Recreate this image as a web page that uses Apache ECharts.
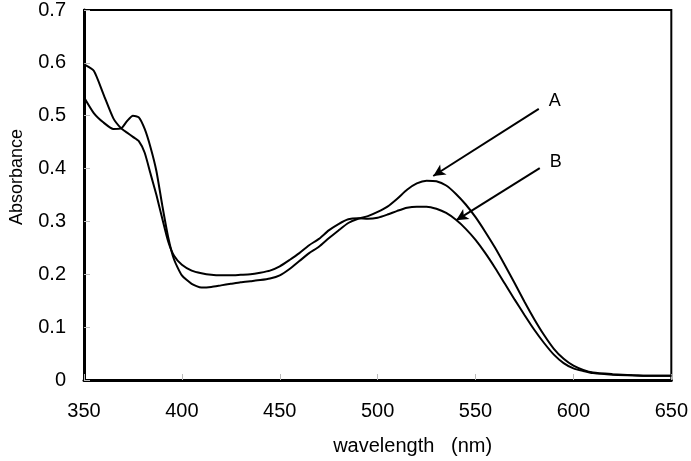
<!DOCTYPE html>
<html>
<head>
<meta charset="utf-8">
<script src="https://cdn.jsdelivr.net/npm/echarts@6/dist/echarts.min.js"></script>
<style>
  html, body { margin: 0; padding: 0; background: #fff; }
  #chart { width: 691px; height: 461px; }
</style>
</head>
<body>
<div id="chart"></div>
<script>
var wavelengths = [350, 355, 360, 365, 369, 372, 375, 378, 381, 384, 387, 390, 393, 396, 400, 405, 410, 415, 420, 425, 430, 435, 440, 445, 450, 455, 460, 465, 470, 475, 480, 485, 490, 495, 500, 505, 510, 515, 520, 525, 530, 535, 540, 545, 550, 555, 560, 565, 570, 575, 580, 585, 590, 595, 600, 605, 610, 620, 630, 640, 650];

var curveA = [0.535, 0.505, 0.487, 0.475, 0.476, 0.49, 0.5, 0.497, 0.475, 0.44, 0.395, 0.33, 0.27, 0.228, 0.198, 0.182, 0.175, 0.176, 0.179, 0.182, 0.185, 0.187, 0.189, 0.192, 0.198, 0.21, 0.225, 0.24, 0.252, 0.268, 0.283, 0.297, 0.305, 0.31, 0.318, 0.328, 0.343, 0.36, 0.372, 0.377, 0.376, 0.368, 0.352, 0.332, 0.308, 0.28, 0.25, 0.217, 0.183, 0.148, 0.115, 0.085, 0.059, 0.04, 0.027, 0.019, 0.014, 0.011, 0.009, 0.008, 0.008];

var curveB = [0.597, 0.585, 0.54, 0.495, 0.476, 0.468, 0.46, 0.452, 0.43, 0.39, 0.35, 0.305, 0.262, 0.235, 0.218, 0.207, 0.202, 0.199, 0.198, 0.198, 0.199, 0.2, 0.203, 0.207, 0.215, 0.227, 0.24, 0.255, 0.267, 0.283, 0.295, 0.304, 0.306, 0.305, 0.307, 0.313, 0.32, 0.326, 0.328, 0.328, 0.324, 0.316, 0.303, 0.286, 0.265, 0.24, 0.212, 0.182, 0.152, 0.123, 0.095, 0.07, 0.048, 0.032, 0.022, 0.017, 0.013, 0.01, 0.009, 0.008, 0.008];

// arrow start/end and label spot, in data units
var arrowA = [[582.3, 0.513], [528.4, 0.386]];
var arrowB = [[582.8, 0.401], [540.1, 0.302]];
var labelA = [590.5, 0.528];
var labelB = [591, 0.412];

function pairs(ys) {
  return wavelengths.map(function (x, i) { return [x, ys[i]]; });
}

function annot(name, arrow, spot) {
  return {
    markLine: {
      silent: true,
      symbol: ['none', 'arrow'],
      symbolSize: [9, 12],
      lineStyle: { color: '#000', width: 2, type: 'solid' },
      label: { show: false },
      data: [[{ coord: arrow[0] }, { coord: arrow[1] }]]
    },
    markPoint: {
      silent: true,
      symbol: 'circle',
      symbolSize: 0,
      label: {
        show: true,
        position: 'inside',
        formatter: name,
        color: '#000',
        fontSize: 18,
        fontFamily: 'Liberation Sans'
      },
      data: [{ coord: spot }]
    }
  };
}

var dom = document.getElementById('chart');
var myChart = echarts.init(dom, null, { renderer: 'canvas' });

var option = {
  animation: false,
  backgroundColor: '#fff',
  grid: {
    left: 82,
    right: 19,
    top: 8,
    bottom: 77,
    show: true,
    borderColor: '#000',
    borderWidth: 2
  },
  xAxis: {
    type: 'value',
    min: 350,
    max: 650,
    interval: 50,
    name: 'wavelength   (nm)',
    nameLocation: 'middle',
    nameGap: 56,
    nameTextStyle: {
      color: '#000',
      fontSize: 20,
      fontFamily: 'Liberation Sans',
      padding: [0, 0, 0, 70]
    },
    axisLine: { lineStyle: { color: '#000', width: 3 } },
    axisTick: { inside: true, length: 6, lineStyle: { color: '#bbb' } },
    axisLabel: { color: '#000', fontSize: 20, fontFamily: 'Liberation Sans', margin: 21 },
    splitLine: { show: false }
  },
  yAxis: {
    type: 'value',
    min: 0,
    max: 0.7,
    interval: 0.1,
    name: 'Absorbance',
    nameLocation: 'middle',
    nameGap: 58,
    nameTextStyle: {
      color: '#000',
      fontSize: 18,
      fontFamily: 'Liberation Sans',
      padding: [0, 0, 0, 36]
    },
    axisLine: { lineStyle: { color: '#000', width: 3 } },
    axisTick: { inside: true, length: 6, lineStyle: { color: '#bbb' } },
    axisLabel: { color: '#000', fontSize: 20, fontFamily: 'Liberation Sans', margin: 18 },
    splitLine: { show: false }
  },
  series: [
    Object.assign({
      name: 'A',
      type: 'line',
      data: pairs(curveA),
      smooth: 0.2,
      symbol: 'none',
      lineStyle: { color: '#000', width: 2 }
    }, annot('A', arrowA, labelA)),
    Object.assign({
      name: 'B',
      type: 'line',
      data: pairs(curveB),
      smooth: 0.2,
      symbol: 'none',
      lineStyle: { color: '#000', width: 2 }
    }, annot('B', arrowB, labelB))
  ]
};

if (option && typeof option === 'object') {
  myChart.setOption(option);
}

window.addEventListener('resize', myChart.resize);
</script>
</body>
</html>
